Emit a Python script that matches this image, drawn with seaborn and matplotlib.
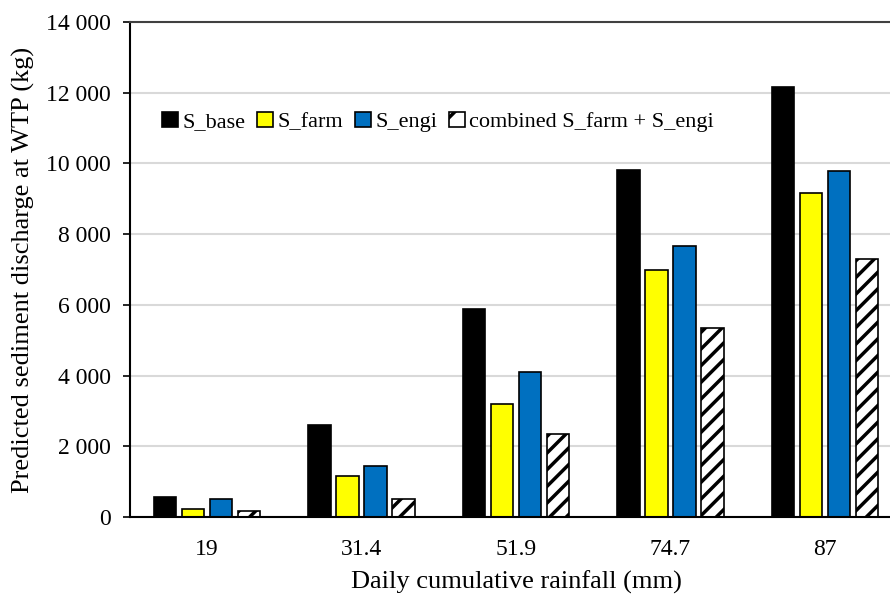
import matplotlib
matplotlib.use("Agg")
import matplotlib.pyplot as plt
from matplotlib.patches import Patch
from matplotlib.ticker import FuncFormatter
import seaborn as sns
import pandas as pd

rainfall = ["19", "31.4", "51.9", "74.7", "87"]
scenarios = ["S_base", "S_farm", "S_engi", "combined S_farm + S_engi"]
s_base = [560, 2595, 5880, 9815, 12165]
s_farm = [220, 1150, 3195, 6985, 9165]
s_engi = [510, 1440, 4100, 7675, 9790]
s_combined = [170, 500, 2345, 5335, 7290]
colors = ["#000000", "#FFFF00", "#0070C0", "#FFFFFF"]

df = pd.DataFrame({
    "rain": rainfall * 4,
    "value": s_base + s_farm + s_engi + s_combined,
    "scenario": sum([[s] * len(rainfall) for s in scenarios], []),
})

sns.set_style("white")
plt.rcParams["font.family"] = ["Liberation Serif", "DejaVu Serif"]
plt.rcParams["hatch.linewidth"] = 2.5
plt.rcParams["hatch.color"] = "black"
plt.rcParams["text.color"] = "black"
plt.rcParams["axes.labelcolor"] = "black"

fig = plt.figure(figsize=(8.9, 5.95), dpi=100)
ax = fig.add_axes([130 / 890, 1 - 517 / 595, 772 / 890, 495 / 595])

sns.barplot(data=df, x="rain", y="value", hue="scenario", order=rainfall,
            hue_order=scenarios, palette=colors, width=0.725, gap=0.2,
            edgecolor="black", linewidth=1.2, saturation=1, ax=ax, legend=False,
            errorbar=None)

for p in ax.containers[3]:
    p.set_hatch("//")
    p.set_edgecolor("black")

ax.set_ylim(0, 14000)
ax.set_yticks(range(0, 14001, 2000))
ax.yaxis.set_major_formatter(FuncFormatter(lambda v, _: f"{int(v):,}".replace(",", " ")))
ax.grid(axis="y", color="#d9d9d9", linewidth=1.5)
ax.set_axisbelow(True)
ax.spines["right"].set_visible(False)
ax.spines["top"].set_color("#404040")
ax.spines["top"].set_linewidth(1.5)
ax.spines["left"].set_color("black")
ax.spines["left"].set_linewidth(1.5)
ax.spines["bottom"].set_color("black")
ax.spines["bottom"].set_linewidth(1.5)
ax.tick_params(axis="y", which="major", left=True, direction="out", length=5,
               width=1.2, labelsize=17, pad=9, colors="black")
ax.tick_params(axis="x", bottom=False, labelsize=17, pad=12, colors="black")

ax.set_xlabel("Daily cumulative rainfall (mm)", fontsize=19, labelpad=8, color="black")
ax.set_ylabel("Predicted sediment discharge at WTP (kg)", fontsize=19, labelpad=8,
              color="black")

handles = [Patch(facecolor=c, edgecolor="black", linewidth=1.2,
                 hatch="/" if i == 3 else None) for i, c in enumerate(colors)]
leg = ax.legend(handles, scenarios, loc="center left", bbox_to_anchor=(0.030, 0.798),
                ncol=4, frameon=False, fontsize=16, handlelength=0.7, handleheight=0.7,
                handletextpad=0.2, columnspacing=0.55, borderaxespad=0)
for t in leg.get_texts():
    t.set_color("black")

fig.savefig("out.png", dpi=100)
